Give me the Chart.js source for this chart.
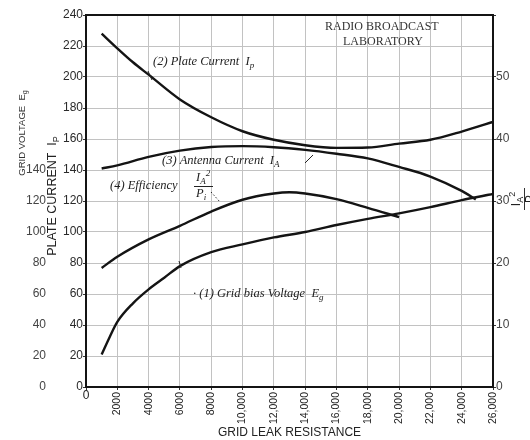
<!DOCTYPE html>
<html>
<head>
<meta charset="utf-8">
<script src="https://cdn.jsdelivr.net/npm/chart.js@4.4.0/dist/chart.umd.min.js"></script>
<style>
  html, body { margin: 0; padding: 0; background: #fff; }
  #wrap { width: 530px; height: 440px; }
</style>
</head>
<body>
<div id="wrap"><canvas id="myChart" width="530" height="440"></canvas></div>
<script>
// grid leak resistance (ohms) and the readings of each curve
const biasR = [1000, 1500, 2000, 3000, 4000, 5000, 6000, 8000, 10000, 12000, 14000, 16000, 18000, 20000, 22000, 24000, 26000];
const biasVolts = [21, 32, 42, 54, 63, 70.5, 78, 87, 92, 96.5, 100, 104.5, 108.5, 112, 116, 120.6, 124.5];

const plateR = [1000, 2000, 3000, 4000, 6000, 8000, 10000, 12000, 14000, 16000, 18000, 20000, 22000, 24000, 26000];
const plateMa = [228, 218.5, 209.5, 201.5, 185.5, 174, 165, 159.5, 156, 154.3, 154.5, 157, 159.5, 164.8, 171];

const antennaR = [1000, 2000, 4000, 6000, 8000, 10000, 12000, 14000, 16000, 18000, 20000, 22000, 24000, 24900];
const antennaMa = [141, 143, 148.5, 152.5, 154.8, 155.4, 154.7, 153, 150.5, 147.5, 142, 135.8, 126.5, 121];

// efficiency, read on the right hand scale
const effR = [1000, 2000, 4000, 6000, 8000, 10000, 12000, 13000, 14000, 16000, 18000, 20000];
const effVals = [19.2, 21, 23.8, 26, 28.3, 30.2, 31.2, 31.4, 31.2, 30.3, 28.9, 27.4];

const xMax = 26000, xStep = 2000;
const leftMax = 240, leftStep = 20, outerLast = 140;
const rightMax = 60, rightStep = 10, rightLast = 50;

const pairs = (xs, ys) => xs.map((x, i) => ({x: x, y: ys[i]}));

const ink = '#141414';
const serif = '"Liberation Serif", "DejaVu Serif", serif';
const sans = '"Liberation Sans", sans-serif';

function curve(data, axis) {
    return {
        data: data,
        yAxisID: axis,
        borderColor: ink,
        borderWidth: 2.4,
        pointRadius: 0,
        fill: false,
        cubicInterpolationMode: 'monotone'
    };
}

// text with sub / superscripts, drawn left to right from x
function rich(ctx, x, y, parts, size, style, family) {
    parts.forEach(p => {
        const small = p.sub || p.sup;
        const s = small ? Math.round(size * 0.72) : size;
        ctx.font = style + ' ' + s + 'px ' + family;
        const dy = p.sub ? size * 0.3 : (p.sup ? -size * 0.38 : 0);
        ctx.fillText(p.t, x, y + dy);
        x += ctx.measureText(p.t).width;
    });
    return x;
}

function richWidth(ctx, parts, size, style, family) {
    let w = 0;
    parts.forEach(p => {
        const s = (p.sub || p.sup) ? Math.round(size * 0.72) : size;
        ctx.font = style + ' ' + s + 'px ' + family;
        w += ctx.measureText(p.t).width;
    });
    return w;
}

function upright(ctx, cx, cy, parts, size, style, family) {
    ctx.save();
    ctx.translate(cx, cy);
    ctx.rotate(-Math.PI / 2);
    const w = richWidth(ctx, parts, size, style, family);
    rich(ctx, -w / 2, 0, parts, size, style, family);
    ctx.restore();
}

const notes = {
    id: 'notes',
    afterDraw(chart) {
        const ctx = chart.ctx;
        const a = chart.chartArea;
        ctx.save();
        // frame
        ctx.strokeStyle = ink;
        ctx.lineWidth = 2;
        ctx.strokeRect(a.left, a.top, a.right - a.left, a.bottom - a.top);

        ctx.fillStyle = '#333';
        ctx.textBaseline = 'middle';

        // axis titles
        upright(ctx, 22, 133, [{t: 'GRID VOLTAGE  E'}, {t: 'g', sub: true}], 9.5, 'normal', sans);
        ctx.fillStyle = '#222';
        upright(ctx, 53, 196, [{t: 'PLATE CURRENT  I'}, {t: 'P', sub: true}], 12.5, 'normal', sans);
        upright(ctx, 517, 199, [{t: 'I'}, {t: 'A', sub: true}, {t: '2', sup: true}], 12, 'normal', sans);
        ctx.strokeStyle = '#333';
        ctx.lineWidth = 1;
        ctx.beginPath();
        ctx.moveTo(524.5, 188);
        ctx.lineTo(524.5, 210);
        ctx.stroke();
        upright(ctx, 531, 199, [{t: 'P'}], 12, 'normal', sans);

        // horizontal zero under the x axis
        ctx.font = '12px ' + sans;
        ctx.textAlign = 'center';
        ctx.fillText('0', chart.scales.x.getPixelForValue(0), 396);
        ctx.textAlign = 'left';

        // laboratory stamp
        ctx.fillStyle = '#333';
        ctx.font = '12px ' + serif;
        ctx.fillText('RADIO BROADCAST', 325, 27);
        ctx.fillText('LABORATORY', 343, 42);

        // curve labels
        ctx.fillStyle = '#222';
        const it = 'italic';
        rich(ctx, 153, 62, [{t: '(2) Plate Current  I'}, {t: 'p', sub: true}], 12.5, it, serif);
        rich(ctx, 162, 161, [{t: '(3) Antenna Current  I'}, {t: 'A', sub: true}], 12.5, it, serif);
        rich(ctx, 110, 186, [{t: '(4) Efficiency'}], 12.5, it, serif);
        rich(ctx, 196, 178, [{t: 'I'}, {t: 'A', sub: true}, {t: '2', sup: true}], 12.5, it, serif);
        rich(ctx, 196, 194, [{t: 'P'}, {t: 'i', sub: true}], 12.5, it, serif);
        rich(ctx, 193, 294, [{t: '· (1) Grid bias Voltage  E'}, {t: 'g', sub: true}], 12.5, it, serif);

        ctx.strokeStyle = '#222';
        ctx.lineWidth = 1;
        ctx.beginPath();
        ctx.moveTo(194, 186.5); ctx.lineTo(213, 186.5);      // fraction bar
        ctx.moveTo(148, 71); ctx.lineTo(152, 80);            // pointer to curve 2
        ctx.moveTo(305, 163); ctx.lineTo(313, 155);          // pointer to curve 3
        ctx.moveTo(179, 261); ctx.lineTo(181, 268);          // pointer to curve 1
        ctx.stroke();
        ctx.setLineDash([1.5, 2]);
        ctx.beginPath();
        ctx.moveTo(211, 192); ctx.lineTo(220, 202);          // pointer to curve 4
        ctx.stroke();
        ctx.restore();
    }
};

const config = {
    type: 'line',
    data: {
        datasets: [
            curve(pairs(biasR, biasVolts), 'y'),
            curve(pairs(plateR, plateMa), 'y'),
            curve(pairs(antennaR, antennaMa), 'y'),
            curve(pairs(effR, effVals), 'y2')
        ]
    },
    options: {
        responsive: false,
        animation: false,
        layout: {padding: {top: 15, left: 0, right: 0, bottom: 0}},
        plugins: {legend: {display: false}, tooltip: {enabled: false}},
        scales: {
            x: {
                type: 'linear',
                min: 0,
                max: xMax,
                afterFit: s => { s.height = 53; },
                ticks: {
                    stepSize: xStep,
                    autoSkip: false,
                    minRotation: 90,
                    maxRotation: 90,
                    padding: 2,
                    color: '#222',
                    font: {size: 10.5},
                    callback: v => v === 0 ? '' : (v >= 10000 ? v.toLocaleString('en-US') : String(v))
                },
                grid: {color: '#c2c2c2', tickColor: '#333', tickLength: 3},
                border: {color: ink, width: 2},
                title: {
                    display: true,
                    text: 'GRID LEAK RESISTANCE',
                    color: '#222',
                    font: {size: 12},
                    padding: {top: 0, bottom: 0}
                }
            },
            y: {
                position: 'left',
                weight: 0,
                min: 0,
                max: leftMax,
                afterFit: s => { s.width = 38; },
                ticks: {stepSize: leftStep, padding: 0, color: '#2a2a2a', font: {size: 12}},
                grid: {color: '#c2c2c2', tickColor: '#333', tickLength: 3},
                border: {color: ink, width: 2}
            },
            yg: {
                position: 'left',
                weight: 1,
                min: 0,
                max: leftMax,
                afterFit: s => { s.width = 48; },
                ticks: {
                    stepSize: leftStep,
                    padding: 2,
                    color: '#444',
                    font: {size: 12},
                    callback: v => v <= outerLast ? v : ''
                },
                grid: {display: false, drawTicks: false},
                border: {display: false}
            },
            y2: {
                position: 'right',
                min: 0,
                max: rightMax,
                afterFit: s => { s.width = 37; },
                ticks: {
                    stepSize: rightStep,
                    padding: 0,
                    color: '#444',
                    font: {size: 12},
                    callback: v => v <= rightLast ? v : ''
                },
                grid: {drawOnChartArea: false, color: '#333', tickLength: 3},
                border: {color: ink, width: 2}
            }
        }
    },
    plugins: [notes]
};

Chart.defaults.font.family = sans;

const myChart = new Chart(
    document.getElementById('myChart'),
    config
);
</script>
</body>
</html>
